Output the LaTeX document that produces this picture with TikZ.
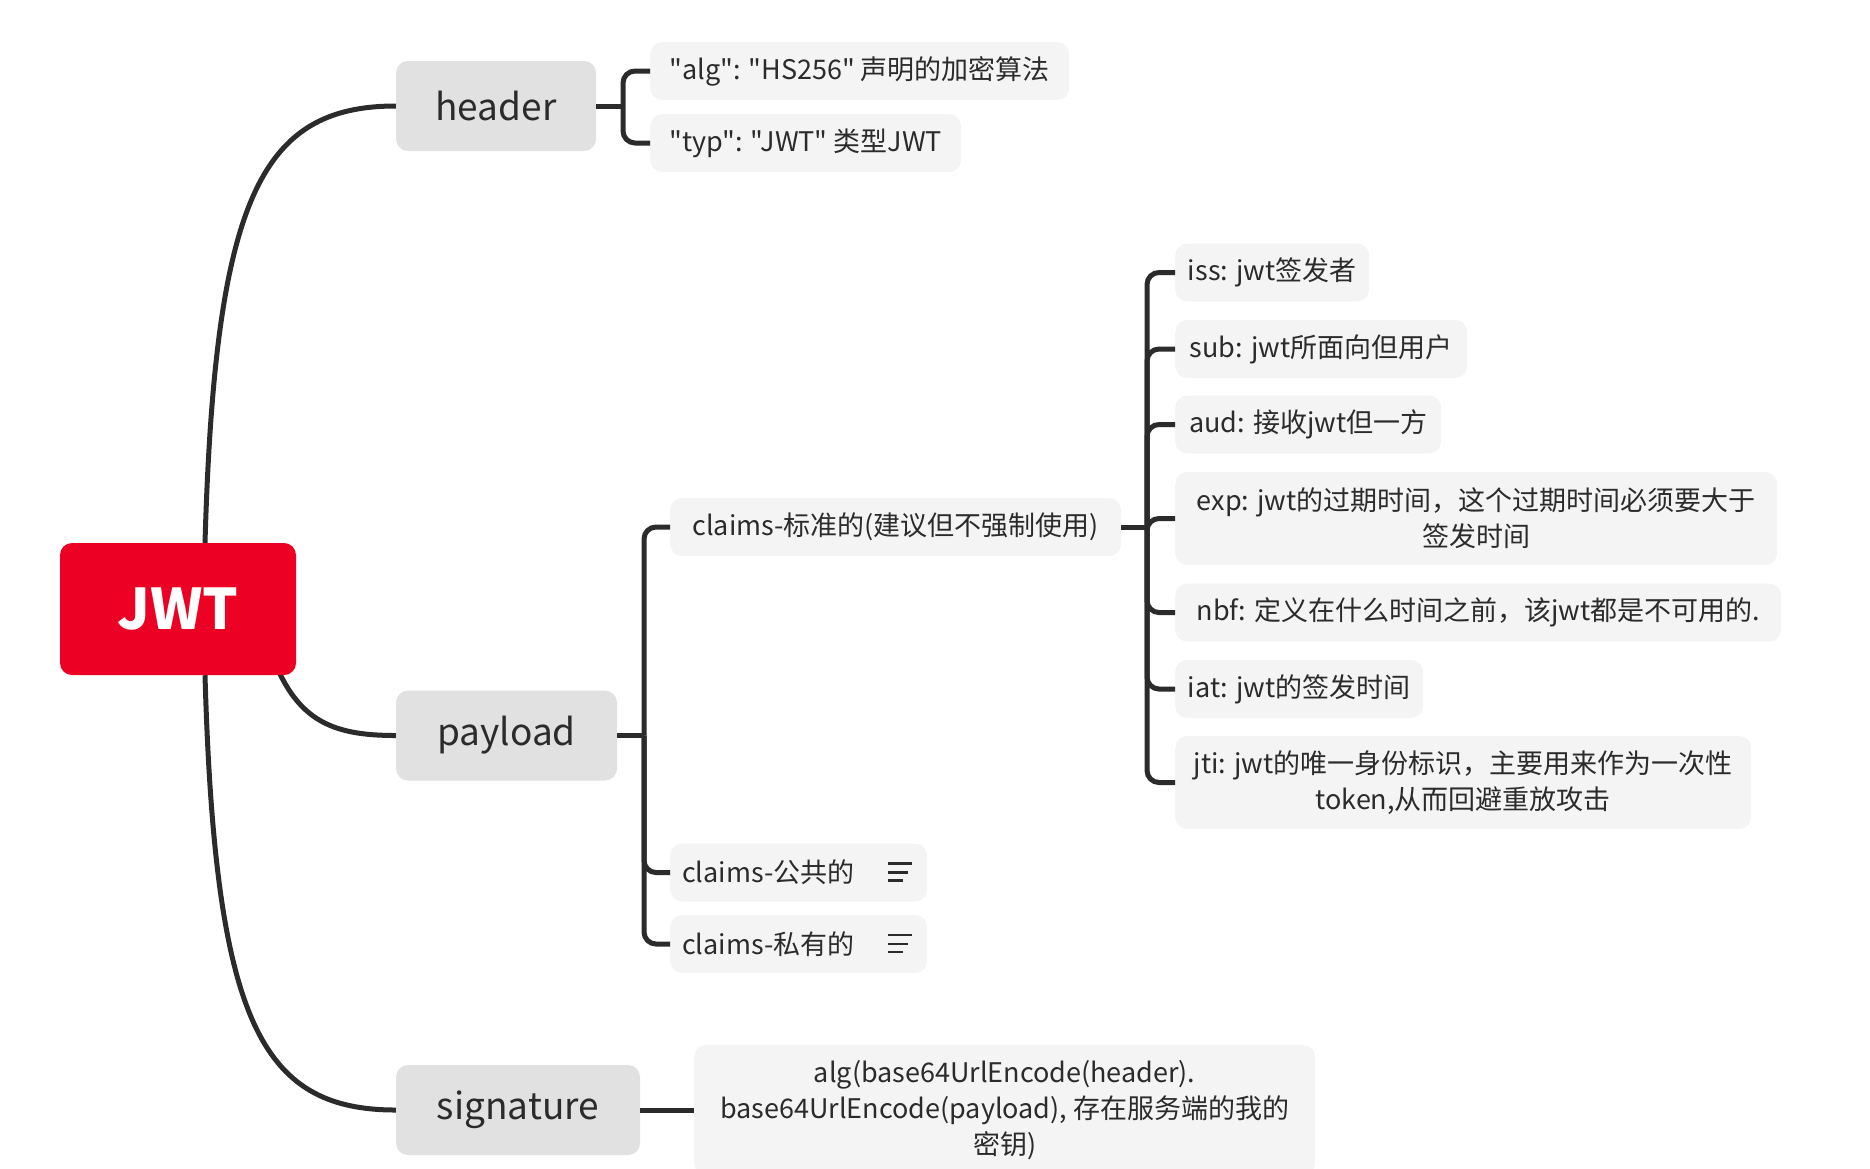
\documentclass[tikz,border=0pt]{standalone}
\usepackage{fontspec}
\setmainfont{Noto Sans CJK SC}[Ligatures=TeXOff]
\usetikzlibrary{backgrounds}

\definecolor{jwtred}{RGB}{236,0,36}
\definecolor{topicgray}{RGB}{225,225,225}
\definecolor{leafgray}{RGB}{244,244,244}
\definecolor{ink}{RGB}{43,43,43}

\tikzset{
  root/.style={fill=jwtred, text=white, rounded corners=12pt, minimum width=236pt, minimum height=132pt, font=\fontsize{56}{60}\selectfont\bfseries},
  topic/.style={fill=topicgray, text=ink, rounded corners=12pt, minimum height=90pt, font=\fontsize{37}{40}\selectfont},
  leaf/.style={fill=leafgray, text=ink, rounded corners=12pt, minimum height=58pt, align=center, anchor=west, inner xsep=12pt, font=\fontsize{27}{36}\selectfont},
  link/.style={draw=ink, line width=5pt, rounded corners=12pt},
  curve/.style={draw=ink, line width=5pt},
  noteicon/.style={draw=ink, line width=2.5pt},
}

\begin{document}
\begin{tikzpicture}[x=1pt, y=-1pt]
  \useasboundingbox (0,0) rectangle (1870,1168);

  \node[root] (jwt) at (178,609) {JWT};
  \node[topic, minimum width=200pt] (header) at (496,106) {header};
  \node[topic, minimum width=221pt] (payload) at (506.5,735.5) {payload};
  \node[topic, minimum width=244pt] (signature) at (518,1110) {signature};

  % header
  \node[leaf, minimum width=419pt] (alg) at (650,71) {"alg": "HS256" 声明的加密算法};
  \node[leaf, minimum width=311pt] (typ) at (650,143) {"typ": "JWT" 类型JWT};

  % payload
  \node[leaf, minimum width=451pt] (claimsstd) at (670,527) {claims-标准的(建议但不强制使用)};
  \node[leaf, text width=233pt, align=left] (claimspub) at (670,872.5) {claims-公共的};
  \node[leaf, text width=233pt, align=left] (claimspri) at (670,944) {claims-私有的};

  \node[leaf, minimum width=194pt] (iss) at (1175,272.5) {iss: jwt签发者};
  \node[leaf, minimum width=292pt] (sub) at (1175,349) {sub: jwt所面向但用户};
  \node[leaf, minimum width=266pt] (aud) at (1175,424.5) {aud: 接收jwt但一方};
  \node[leaf, minimum width=602pt, minimum height=93pt] (exp) at (1175,518.5) {exp: jwt的过期时间，这个过期时间必须要大于\\签发时间};
  \node[leaf, minimum width=606pt] (nbf) at (1175,612.5) {nbf: 定义在什么时间之前，该jwt都是不可用的.};
  \node[leaf, minimum width=248pt] (iat) at (1175,689) {iat: jwt的签发时间};
  \node[leaf, minimum width=576pt, minimum height=93pt] (jti) at (1175,782.5) {jti: jwt的唯一身份标识，主要用来作为一次性\\token,从而回避重放攻击};

  % signature
  \node[leaf, minimum width=621pt, minimum height=130pt] (sigval) at (694,1110) {alg(base64UrlEncode(header).\\base64UrlEncode(payload), 存在服务端的我的\\密钥)};

  % note icons
  \foreach \n in {claimspub, claimspri} {
    \draw[noteicon] ([xshift=-39pt,yshift=9pt]\n.east) -- ++(24,0);
    \draw[noteicon] ([xshift=-39pt]\n.east) -- ++(20,0);
    \draw[noteicon] ([xshift=-39pt,yshift=-8pt]\n.east) -- ++(15,0);
  }

  \begin{scope}[on background layer]
    \draw[curve] ([xshift=27pt]jwt.north) .. controls (215,200) and (260,106) .. (header.west);
    \draw[curve] (270,650) .. controls (295,720) and (330,735.5) .. (payload.west);
    \draw[curve] ([xshift=27pt]jwt.south) .. controls (215,1020) and (260,1110) .. (signature.west);
  \end{scope}

  \coordinate (hb) at (623,106);
  \draw[link] (header.east) -- (hb);
  \foreach \n in {alg, typ}
    \draw[link] (hb) |- (\n.west);

  \coordinate (pb) at (644,735.5);
  \draw[link] (payload.east) -- (pb);
  \foreach \n in {claimsstd, claimspub, claimspri}
    \draw[link] (pb) |- (\n.west);

  \coordinate (cb) at (1147,527);
  \draw[link] (claimsstd.east) -- (cb);
  \foreach \n in {iss, sub, aud, exp, nbf, iat, jti}
    \draw[link] (cb) |- (\n.west);

  \draw[link] (signature.east) -- (sigval.west);
\end{tikzpicture}
\end{document}
